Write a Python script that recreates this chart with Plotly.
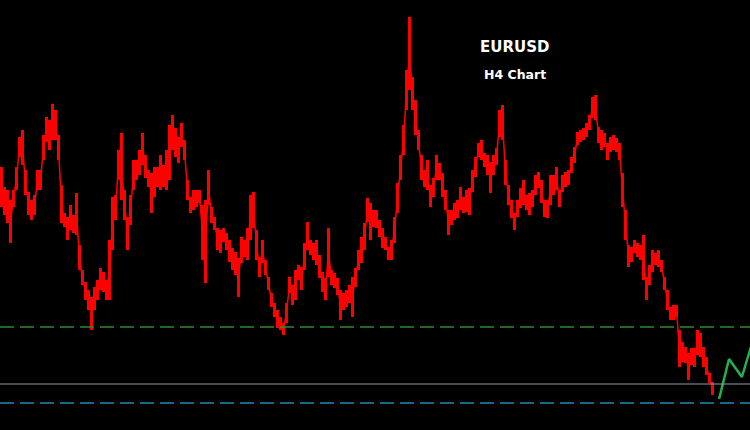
import numpy as np
import plotly.graph_objects as go

# H4 bars (price)
highs = [
    1.0833, 1.0813, 1.0810, 1.0800, 1.0810, 1.0833, 1.0863, 1.0870, 1.0830, 1.0808,
    1.0800, 1.0805, 1.0830, 1.0830, 1.0865, 1.0883, 1.0880, 1.0896, 1.0890, 1.0865,
    1.0815, 1.0787, 1.0783, 1.0795, 1.0785, 1.0807, 1.0755, 1.0730, 1.0718, 1.0710,
    1.0703, 1.0713, 1.0720, 1.0732, 1.0728, 1.0720, 1.0760, 1.0803, 1.0805, 1.0850,
    1.0867, 1.0810, 1.0783, 1.0805, 1.0840, 1.0840, 1.0850, 1.0867, 1.0845, 1.0830,
    1.0827, 1.0833, 1.0833, 1.0845, 1.0835, 1.0850, 1.0875, 1.0885, 1.0872, 1.0863,
    1.0877, 1.0860, 1.0820, 1.0803, 1.0810, 1.0810, 1.0810, 1.0795, 1.0800, 1.0830,
    1.0793, 1.0783, 1.0772, 1.0770, 1.0772, 1.0767, 1.0760, 1.0752, 1.0748, 1.0742,
    1.0763, 1.0760, 1.0772, 1.0805, 1.0808, 1.0770, 1.0743, 1.0760, 1.0740, 1.0723,
    1.0707, 1.0697, 1.0690, 1.0683, 1.0677, 1.0697, 1.0723, 1.0715, 1.0730, 1.0735,
    1.0733, 1.0757, 1.0778, 1.0760, 1.0757, 1.0760, 1.0745, 1.0728, 1.0722, 1.0772,
    1.0730, 1.0727, 1.0722, 1.0710, 1.0707, 1.0710, 1.0715, 1.0723, 1.0732, 1.0750,
    1.0763, 1.0777, 1.0802, 1.0797, 1.0790, 1.0790, 1.0780, 1.0772, 1.0763, 1.0753,
    1.0760, 1.0783, 1.0817, 1.0845, 1.0875, 1.0930, 1.0983, 1.0923, 1.0900, 1.0870,
    1.0845, 1.0830, 1.0840, 1.0815, 1.0822, 1.0845, 1.0837, 1.0827, 1.0810, 1.0790,
    1.0790, 1.0797, 1.0800, 1.0813, 1.0803, 1.0810, 1.0812, 1.0830, 1.0843, 1.0857,
    1.0860, 1.0847, 1.0845, 1.0838, 1.0845, 1.0852, 1.0890, 1.0895, 1.0840, 1.0815,
    1.0800, 1.0787, 1.0800, 1.0812, 1.0820, 1.0805, 1.0807, 1.0810, 1.0825, 1.0828,
    1.0820, 1.0800, 1.0800, 1.0825, 1.0825, 1.0833, 1.0810, 1.0825, 1.0828, 1.0830,
    1.0843, 1.0853, 1.0868, 1.0870, 1.0872, 1.0877, 1.0885, 1.0903, 1.0905, 1.0873,
    1.0870, 1.0867, 1.0857, 1.0863, 1.0865, 1.0862, 1.0857, 1.0827, 1.0790, 1.0755,
    1.0753, 1.0760, 1.0757, 1.0755, 1.0765, 1.0723, 1.0735, 1.0750, 1.0747, 1.0750,
    1.0740, 1.0723, 1.0710, 1.0693, 1.0695, 1.0695, 1.0670, 1.0658, 1.0653, 1.0647,
    1.0652, 1.0652, 1.0670, 1.0667, 1.0653, 1.0643, 1.0627, 1.0618,
]
lows = [
    1.0793, 1.0785, 1.0777, 1.0757, 1.0793, 1.0810, 1.0843, 1.0835, 1.0805, 1.0785,
    1.0780, 1.0785, 1.0810, 1.0810, 1.0840, 1.0858, 1.0850, 1.0860, 1.0860, 1.0840,
    1.0777, 1.0773, 1.0760, 1.0770, 1.0767, 1.0765, 1.0730, 1.0715, 1.0700, 1.0690,
    1.0670, 1.0690, 1.0700, 1.0710, 1.0708, 1.0700, 1.0700, 1.0750, 1.0780, 1.0820,
    1.0800, 1.0780, 1.0750, 1.0775, 1.0810, 1.0820, 1.0825, 1.0835, 1.0822, 1.0813,
    1.0787, 1.0803, 1.0813, 1.0810, 1.0813, 1.0810, 1.0820, 1.0850, 1.0843, 1.0837,
    1.0853, 1.0840, 1.0800, 1.0787, 1.0790, 1.0793, 1.0797, 1.0740, 1.0717, 1.0795,
    1.0777, 1.0770, 1.0750, 1.0747, 1.0758, 1.0750, 1.0738, 1.0730, 1.0725, 1.0703,
    1.0737, 1.0743, 1.0740, 1.0760, 1.0772, 1.0740, 1.0723, 1.0737, 1.0725, 1.0710,
    1.0693, 1.0683, 1.0672, 1.0670, 1.0665, 1.0677, 1.0707, 1.0695, 1.0700, 1.0720,
    1.0710, 1.0730, 1.0750, 1.0745, 1.0740, 1.0735, 1.0722, 1.0708, 1.0700, 1.0723,
    1.0715, 1.0712, 1.0705, 1.0680, 1.0690, 1.0693, 1.0697, 1.0683, 1.0713, 1.0730,
    1.0737, 1.0750, 1.0778, 1.0760, 1.0773, 1.0772, 1.0763, 1.0752, 1.0750, 1.0740,
    1.0740, 1.0757, 1.0787, 1.0820, 1.0845, 1.0890, 1.0910, 1.0890, 1.0865, 1.0850,
    1.0820, 1.0813, 1.0810, 1.0793, 1.0803, 1.0820, 1.0820, 1.0803, 1.0790, 1.0765,
    1.0775, 1.0780, 1.0782, 1.0790, 1.0787, 1.0788, 1.0785, 1.0808, 1.0823, 1.0843,
    1.0840, 1.0833, 1.0825, 1.0807, 1.0825, 1.0835, 1.0863, 1.0860, 1.0815, 1.0795,
    1.0782, 1.0770, 1.0783, 1.0792, 1.0795, 1.0790, 1.0785, 1.0793, 1.0805, 1.0812,
    1.0797, 1.0783, 1.0782, 1.0795, 1.0805, 1.0810, 1.0793, 1.0808, 1.0813, 1.0815,
    1.0827, 1.0837, 1.0855, 1.0858, 1.0860, 1.0863, 1.0870, 1.0882, 1.0880, 1.0857,
    1.0850, 1.0853, 1.0840, 1.0848, 1.0850, 1.0848, 1.0840, 1.0793, 1.0760, 1.0733,
    1.0738, 1.0747, 1.0743, 1.0740, 1.0720, 1.0700, 1.0715, 1.0728, 1.0735, 1.0733,
    1.0728, 1.0710, 1.0690, 1.0680, 1.0680, 1.0683, 1.0633, 1.0638, 1.0637, 1.0620,
    1.0635, 1.0633, 1.0645, 1.0643, 1.0633, 1.0625, 1.0617, 1.0605,
]

# projected path (green) and horizontal levels
proj_bars = [239.2, 242.5, 246.8, 250.5]
proj_prices = [1.0601, 1.0641, 1.0623, 1.0660]

level_upper = 1.0673   # green dashed
level_mid = 1.0616     # grey solid
level_lower = 1.0597   # blue dashed

bars = np.arange(len(highs))
hi = np.array(highs)
lo = np.array(lows)

fig = go.Figure()
fig.add_trace(go.Bar(
    x=bars, y=hi - lo, base=lo, width=0.8,
    marker=dict(color="#ff0000", line=dict(width=0)),
    hoverinfo="skip",
))
# thin path through bar middles so the bars read as one continuous series
fig.add_trace(go.Scatter(
    x=bars, y=(hi + lo) / 2, mode="lines",
    line=dict(color="#ff0000", width=1.5),
    hoverinfo="skip",
))
fig.add_trace(go.Scatter(
    x=proj_bars, y=proj_prices, mode="lines",
    line=dict(color="#22b14c", width=2.5),
    hoverinfo="skip",
))

fig.add_hline(y=level_upper, line=dict(color="#2c8a2c", width=1.5, dash="14px,6px"))
fig.add_hline(y=level_mid, line=dict(color="#8c9bab", width=1.2))
fig.add_hline(y=level_lower, line=dict(color="#1f8bb5", width=1.5, dash="14px,6px"))

title_font = dict(family="DejaVu Sans, Verdana, sans-serif", color="white")
fig.add_annotation(
    x=514 / 750, y=1 - 47 / 430, xref="paper", yref="paper",
    xanchor="center", yanchor="middle", text="<b>EURUSD</b>",
    showarrow=False, font=dict(size=15, **title_font),
)
fig.add_annotation(
    x=515 / 750, y=1 - 74 / 430, xref="paper", yref="paper",
    xanchor="center", yanchor="middle", text="<b>H4 Chart</b>",
    showarrow=False, font=dict(size=12.5, **title_font),
)

fig.update_layout(
    width=750, height=430,
    margin=dict(l=0, r=0, t=0, b=0),
    paper_bgcolor="black", plot_bgcolor="black",
    showlegend=False, bargap=0,
    xaxis=dict(range=[-0.5, 249.5], visible=False),
    yaxis=dict(range=[1.057, 1.1], visible=False),
)

fig.write_html(
    "out.html",
    config={"displayModeBar": False},
    post_script="document.body.style.margin='0';document.body.style.overflow='hidden';",
)
